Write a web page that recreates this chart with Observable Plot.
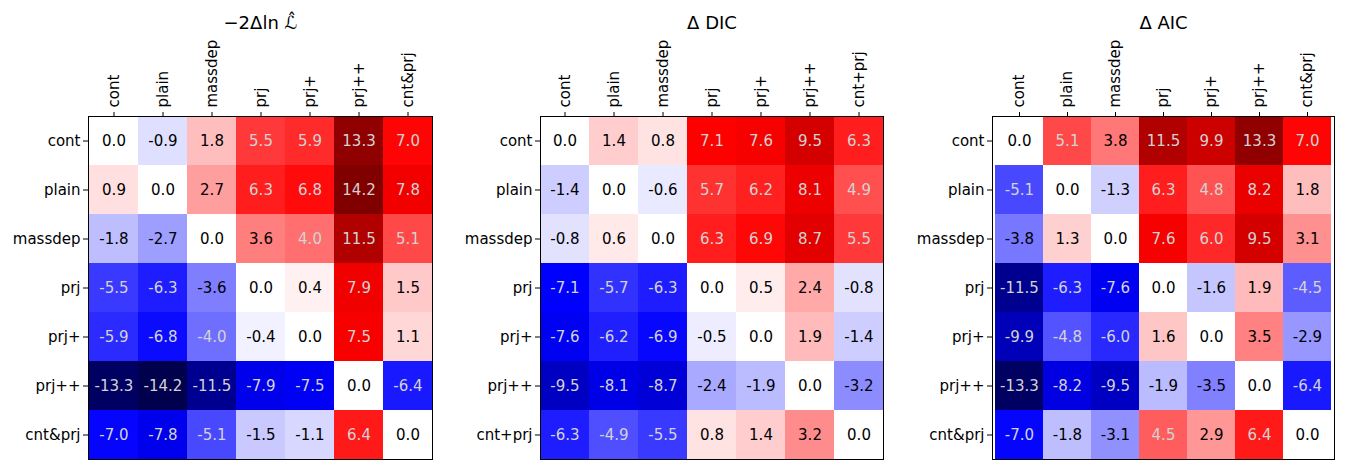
<!DOCTYPE html>
<html>
<head>
<meta charset="utf-8">
<script src="https://cdn.jsdelivr.net/npm/d3@7"></script>
<script src="https://cdn.jsdelivr.net/npm/@observablehq/plot@0.6"></script>
<style>
  body { margin: 0; background: white; }
  #wrap { position: relative; width: 1347px; height: 461px; overflow: hidden; }
  .panel { position: absolute; top: 0; }
</style>
</head>
<body>
<div id="wrap"></div>
<script>
const catsA = ["cont", "plain", "massdep", "prj", "prj+", "prj++", "cnt&prj"];
const catsB = ["cont", "plain", "massdep", "prj", "prj+", "prj++", "cnt+prj"];

const titles = ["\u22122\u0394ln \u2112\u0302", "\u0394 DIC", "\u0394 AIC"];

const valuesL = [
  [0.0, -0.9, 1.8, 5.5, 5.9, 13.3, 7.0],
  [0.9, 0.0, 2.7, 6.3, 6.8, 14.2, 7.8],
  [-1.8, -2.7, 0.0, 3.6, 4.0, 11.5, 5.1],
  [-5.5, -6.3, -3.6, 0.0, 0.4, 7.9, 1.5],
  [-5.9, -6.8, -4.0, -0.4, 0.0, 7.5, 1.1],
  [-13.3, -14.2, -11.5, -7.9, -7.5, 0.0, -6.4],
  [-7.0, -7.8, -5.1, -1.5, -1.1, 6.4, 0.0]
];
const valuesDIC = [
  [0.0, 1.4, 0.8, 7.1, 7.6, 9.5, 6.3],
  [-1.4, 0.0, -0.6, 5.7, 6.2, 8.1, 4.9],
  [-0.8, 0.6, 0.0, 6.3, 6.9, 8.7, 5.5],
  [-7.1, -5.7, -6.3, 0.0, 0.5, 2.4, -0.8],
  [-7.6, -6.2, -6.9, -0.5, 0.0, 1.9, -1.4],
  [-9.5, -8.1, -8.7, -2.4, -1.9, 0.0, -3.2],
  [-6.3, -4.9, -5.5, 0.8, 1.4, 3.2, 0.0]
];
const valuesAIC = [
  [0.0, 5.1, 3.8, 11.5, 9.9, 13.3, 7.0],
  [-5.1, 0.0, -1.3, 6.3, 4.8, 8.2, 1.8],
  [-3.8, 1.3, 0.0, 7.6, 6.0, 9.5, 3.1],
  [-11.5, -6.3, -7.6, 0.0, -1.6, 1.9, -4.5],
  [-9.9, -4.8, -6.0, 1.6, 0.0, 3.5, -2.9],
  [-13.3, -8.2, -9.5, -1.9, -3.5, 0.0, -6.4],
  [-7.0, -1.8, -3.1, 4.5, 2.9, 6.4, 0.0]
];

const vmax = 14.2;

const panels = [
  {cats: catsA, values: valuesL, title: titles[0], left: 0, ml: 88, mr: 17},
  {cats: catsB, values: valuesDIC, title: titles[1], left: 449, ml: 91, mr: 15},
  {cats: catsA, values: valuesAIC, title: titles[2], left: 898, ml: 94, mr: 13}
];

const wrap = document.getElementById("wrap");

for (const p of panels) {
  const data = [];
  p.values.forEach((row, i) => row.forEach((v, j) => data.push({y: p.cats[i], x: p.cats[j], v})));
  const chart = Plot.plot({
    width: 449,
    height: 461,
    marginLeft: p.ml,
    marginRight: p.mr,
    marginTop: 116,
    marginBottom: 2,
    style: {fontFamily: "DejaVu Sans", fontSize: "15px", background: "white", color: "black"},
    x: {domain: p.cats, axis: "top", tickRotate: -90, tickSize: 5, tickPadding: 4, label: null, padding: 0},
    y: {domain: p.cats, axis: "left", tickSize: 5, tickPadding: 3, label: null, padding: 0},
    color: {
      type: "linear",
      domain: [-vmax, -vmax / 2, 0, vmax / 2, vmax],
      range: ["#00004c", "#0000ff", "#ffffff", "#ff0000", "#800000"],
      interpolate: "rgb"
    },
    marks: [
      Plot.cell(data, {x: "x", y: "y", fill: "v", inset: 0, shapeRendering: "crispEdges"}),
      Plot.text(data.filter(d => Math.abs(d.v) < 3.9), {x: "x", y: "y", text: d => d.v.toFixed(1), fill: "black", fontSize: 15}),
      Plot.text(data.filter(d => Math.abs(d.v) >= 3.9), {x: "x", y: "y", text: d => d.v.toFixed(1), fill: "#d3d3d3", fontSize: 15}),
      Plot.frame({stroke: "black", strokeWidth: 1}),
      Plot.text([p.title], {frameAnchor: "top", dy: -100, text: d => d, fontSize: 18, fill: "black"})
    ]
  });
  const div = document.createElement("div");
  div.className = "panel";
  div.style.left = p.left + "px";
  div.appendChild(chart);
  wrap.appendChild(div);
}
</script>
</body>
</html>
